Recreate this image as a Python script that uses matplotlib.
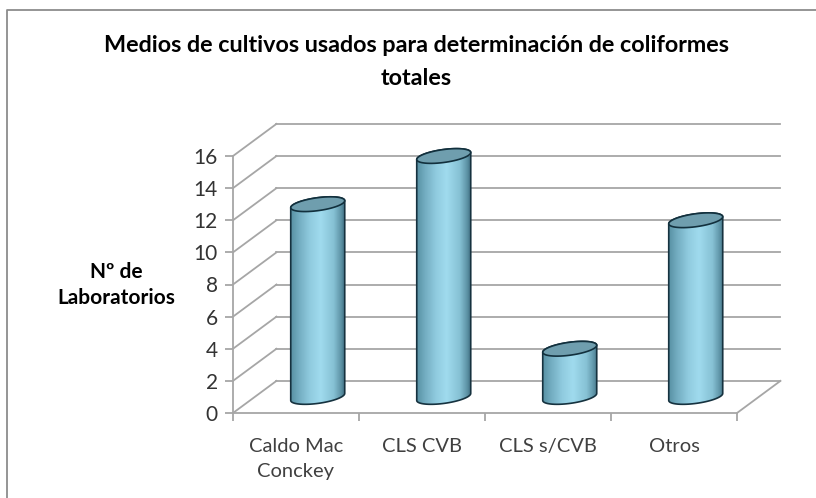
import numpy as np
import matplotlib
matplotlib.use("Agg")
import matplotlib.pyplot as plt
from matplotlib.patches import Polygon

categories = ["Caldo Mac\nConckey", "CLS CVB", "CLS s/CVB", "Otros"]
labs = [12, 15, 3, 11]
yticks = [0, 2, 4, 6, 8, 10, 12, 14, 16]

title = "Medios de cultivos usados para determinación de coliformes\ntotales"
ylabel = "Nº de\nLaboratorios"

W, H = 816, 498
GRID = "#a6a6a6"

plt.rcParams["font.family"] = ["Lato", "DejaVu Sans"]

fig = plt.figure(figsize=(W / 100, H / 100), dpi=100)
ax = fig.add_axes([233 / W, 1 - 413 / H, 504 / W, 257 / H])
ax.set_xlim(0, 4)
ax.set_ylim(0, 16)
ax.patch.set_visible(False)

# px to data units
ux = 4 / 504
uy = 16 / 257
depth_x = 0.345
depth_y = 2.0

# back wall and side lines
for v in yticks:
    ax.plot([0, depth_x], [v, v + depth_y], color=GRID, lw=1.3, clip_on=False, zorder=1)
    ax.plot([depth_x, 4 + depth_x], [v + depth_y, v + depth_y], color=GRID, lw=1.3, clip_on=False, zorder=1)
ax.plot([4, 4 + depth_x], [0, depth_y], color=GRID, lw=1.3, clip_on=False, zorder=1)

cmap = matplotlib.colors.LinearSegmentedColormap.from_list(
    "cyl", [(0, "#5a93a6"), (0.15, "#74aec2"), (0.35, "#90cbdf"), (0.55, "#a0dbee"), (0.8, "#86c1d4"), (0.93, "#5f95a8"), (1, "#467688")]
)


def ellipse(cx, cy, start, stop, n=40):
    t = np.linspace(start, stop, n)
    x = cx + 27 * ux * np.cos(t)
    y = cy + (6.5 * np.sin(t) + 3.5 * np.cos(t)) * uy
    return np.column_stack([x, y])


for i, v in enumerate(labs):
    cx = i + 0.5 + depth_x / 2
    top_y = v + depth_y / 2
    bot_y = depth_y / 2
    bottom = ellipse(cx, bot_y, 0, -np.pi)
    top_back = ellipse(cx, top_y, np.pi, 0)
    body = Polygon(np.vstack([bottom, top_back]), closed=True, fc="none", ec="#16323f", lw=1.2, zorder=4, clip_on=False)
    ax.add_patch(body)
    im = ax.imshow(
        np.linspace(0, 1, 60)[None, :],
        cmap=cmap,
        extent=[cx - 27 * ux, cx + 27 * ux, 0, top_y + 1],
        aspect="auto",
        zorder=3,
    )
    im.set_clip_path(Polygon(np.vstack([bottom, top_back]), closed=True, transform=ax.transData))
    cap = Polygon(ellipse(cx, top_y, 0, 2 * np.pi, 60), closed=True, fc="#6f9eae", ec="#12303d", lw=1.2, zorder=5, clip_on=False)
    ax.add_patch(cap)

ax.set_xlim(0, 4)
ax.set_ylim(0, 16)

for s in ["top", "right"]:
    ax.spines[s].set_visible(False)
for s in ["left", "bottom"]:
    ax.spines[s].set_color(GRID)
    ax.spines[s].set_linewidth(1.3)

ax.set_yticks(yticks)
ax.set_xticks(range(5))
ax.set_xticklabels([])
ax.set_xticks([0.5, 1.5, 2.5, 3.5], minor=True)
ax.set_xticklabels(categories, minor=True, linespacing=1.6)
ax.tick_params(axis="x", which="major", length=6, color=GRID, width=1.3)
ax.tick_params(axis="x", which="minor", length=0, pad=18, labelsize=14.5, labelcolor="#404040")
ax.tick_params(axis="y", length=6, color=GRID, width=1.3, pad=5, labelsize=15, labelcolor="#333333")

fig.text(416 / W, 1 - 62 / H, title, ha="center", va="center", fontsize=16.8, fontweight="bold", color="black", linespacing=1.65)
fig.text(116 / W, 1 - 285 / H, ylabel, ha="center", va="center", fontsize=15, fontweight="bold", color="black", linespacing=1.4)

# picture frame
fig.add_artist(plt.Line2D([7 / W, 7 / W, 1], [0, 1 - 10 / H, 1 - 10 / H], color="#8c8c8c", lw=1.3))

fig.savefig("out.png", dpi=100)
